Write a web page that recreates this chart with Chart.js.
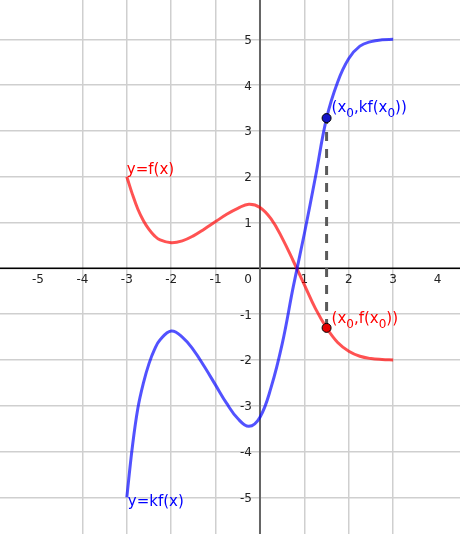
<!DOCTYPE html>
<html>
<head>
<meta charset="utf-8">
<script src="https://cdn.jsdelivr.net/npm/chart.js@4/dist/chart.umd.min.js"></script>
<style>
  body { margin: 0; background: #fff; }
  #wrap { width: 460px; height: 534px; }
</style>
</head>
<body>
<div id="wrap"><canvas id="myChart"></canvas></div>
<script>
// values
const xs = [-3, -2.875, -2.75, -2.625, -2.5, -2.375, -2.25, -2, -1.75, -1.5, -1.25, -1, -0.75, -0.5, -0.25, 0,
            0.25, 0.5, 0.75, 1, 1.25, 1.5, 1.75, 2, 2.25, 2.5, 2.75, 3];
const fValues = [2.0, 1.62, 1.29, 1.04, 0.85, 0.71, 0.62, 0.56, 0.60, 0.71, 0.86, 1.02, 1.18, 1.31, 1.40, 1.33,
                 1.08, 0.66, 0.16, -0.36, -0.88, -1.30, -1.62, -1.81, -1.92, -1.97, -1.99, -2.0];
const kfValues = [-5.0, -3.9, -3.05, -2.5, -2.08, -1.77, -1.56, -1.37, -1.5, -1.78, -2.15, -2.55, -2.95, -3.28, -3.45, -3.25,
                  -2.6, -1.65, -0.4, 0.76, 2.0, 3.28, 4.07, 4.58, 4.85, 4.95, 4.99, 5.0];
const x0 = 1.5;
const fx0 = -1.3;
const kfx0 = 3.28;
const xTicks = [-5, -4, -3, -2, -1, 1, 2, 3, 4];
const yTicks = [-5, -4, -3, -2, -1, 1, 2, 3, 4, 5];

const red = 'rgb(255,0,0)';
const blue = 'rgb(0,0,255)';
const font = '15px "DejaVu Sans"';
const subFont = '12px "DejaVu Sans"';

// text with subscripts: parts = [[text, isSub], ...]
let drawSub = (ctx, parts, x, y) => {
    parts.forEach(p => {
        ctx.font = p[1] ? subFont : font;
        ctx.fillText(p[0], x, p[1] ? y + 5 : y);
        x += ctx.measureText(p[0]).width;
    });
}

const axesPlugin = {
    id: 'axes',
    beforeDatasetsDraw(chart) {
        const ctx = chart.ctx;
        const xs_ = chart.scales.x, ys_ = chart.scales.y;
        const px0 = xs_.getPixelForValue(0), py0 = ys_.getPixelForValue(0);
        ctx.save();
        // axes
        ctx.strokeStyle = '#000';
        ctx.lineWidth = 1.5;
        ctx.beginPath();
        ctx.moveTo(chart.chartArea.left, py0);
        ctx.lineTo(chart.chartArea.right, py0);
        ctx.stroke();
        ctx.strokeStyle = '#666';
        ctx.lineWidth = 2;
        ctx.beginPath();
        ctx.moveTo(px0, chart.chartArea.top);
        ctx.lineTo(px0, chart.chartArea.bottom);
        ctx.stroke();
        // tick labels
        ctx.fillStyle = '#222';
        ctx.font = '12px "DejaVu Sans"';
        ctx.textBaseline = 'alphabetic';
        ctx.textAlign = 'center';
        xTicks.forEach(t => ctx.fillText(String(t), xs_.getPixelForValue(t), py0 + 15));
        ctx.textAlign = 'right';
        yTicks.forEach(t => ctx.fillText(String(t), px0 - 8, ys_.getPixelForValue(t) + 4.5));
        ctx.fillText('0', px0 - 8, py0 + 15);
        ctx.restore();
    },
    afterDatasetsDraw(chart) {
        const ctx = chart.ctx;
        const sx = chart.scales.x, sy = chart.scales.y;
        ctx.save();
        ctx.textAlign = 'left';
        ctx.textBaseline = 'alphabetic';
        ctx.font = font;
        ctx.fillStyle = red;
        ctx.fillText('y=f(x)', sx.getPixelForValue(xs[0]), sy.getPixelForValue(fValues[0]) - 3);
        ctx.fillStyle = blue;
        ctx.fillText('y=kf(x)', sx.getPixelForValue(xs[0]) + 1, sy.getPixelForValue(kfValues[0]) + 9);
        const px = sx.getPixelForValue(x0) + 5;
        drawSub(ctx, [['(x', 0], ['0', 1], [',kf(x', 0], ['0', 1], ['))', 0]], px, sy.getPixelForValue(kfx0) - 6);
        ctx.fillStyle = red;
        drawSub(ctx, [['(x', 0], ['0', 1], [',f(x', 0], ['0', 1], ['))', 0]], px, sy.getPixelForValue(fx0) - 5);
        ctx.restore();
    }
};

let plot = () => {
    const ctx = document.getElementById('myChart');

    const dataset = {
        datasets: [{
            data: xs.map((x, i) => ({ x: x, y: fValues[i] })),
            borderColor: 'rgba(255,0,0,0.68)',
            borderWidth: 3,
            showLine: true,
            pointRadius: 0,
            tension: 0.4,
            order: 4
        }, {
            data: xs.map((x, i) => ({ x: x, y: kfValues[i] })),
            borderColor: 'rgba(0,0,255,0.68)',
            borderWidth: 3,
            showLine: true,
            pointRadius: 0,
            tension: 0.4,
            order: 3
        }, {
            data: [{ x: x0, y: fx0 }, { x: x0, y: kfx0 }],
            borderColor: '#5a5a5a',
            borderWidth: 3,
            borderDash: [9, 8],
            showLine: true,
            pointRadius: 0,
            order: 2
        }, {
            data: [{ x: x0, y: kfx0 }],
            backgroundColor: '#1414c8',
            borderColor: '#000',
            borderWidth: 1,
            pointRadius: 4.5,
            order: 1
        }, {
            data: [{ x: x0, y: fx0 }],
            backgroundColor: '#e60000',
            borderColor: '#000',
            borderWidth: 1,
            pointRadius: 4.5,
            order: 0
        }]
    };

    const gridOpts = { color: '#cfcfcf', lineWidth: 1.5, drawTicks: false };
    const keepInts = s => { s.ticks = s.ticks.filter(t => Number.isInteger(t.value)); };

    const config = {
        type: 'scatter',
        data: dataset,
        options: {
            responsive: true,
            maintainAspectRatio: false,
            animation: false,
            layout: { padding: 0, autoPadding: false },
            plugins: { legend: { display: false }, tooltip: { enabled: false } },
            scales: {
                x: {
                    type: 'linear', min: -5.856, max: 4.505,
                    ticks: { stepSize: 1, display: false },
                    grid: gridOpts, border: { display: false },
                    afterBuildTicks: keepInts
                },
                y: {
                    type: 'linear', min: -5.80, max: 5.858,
                    ticks: { stepSize: 1, display: false },
                    grid: gridOpts, border: { display: false },
                    afterBuildTicks: keepInts
                }
            }
        },
        plugins: [axesPlugin]
    };

    const chart = new Chart(ctx, config)
}

plot();
</script>
</body>
</html>
